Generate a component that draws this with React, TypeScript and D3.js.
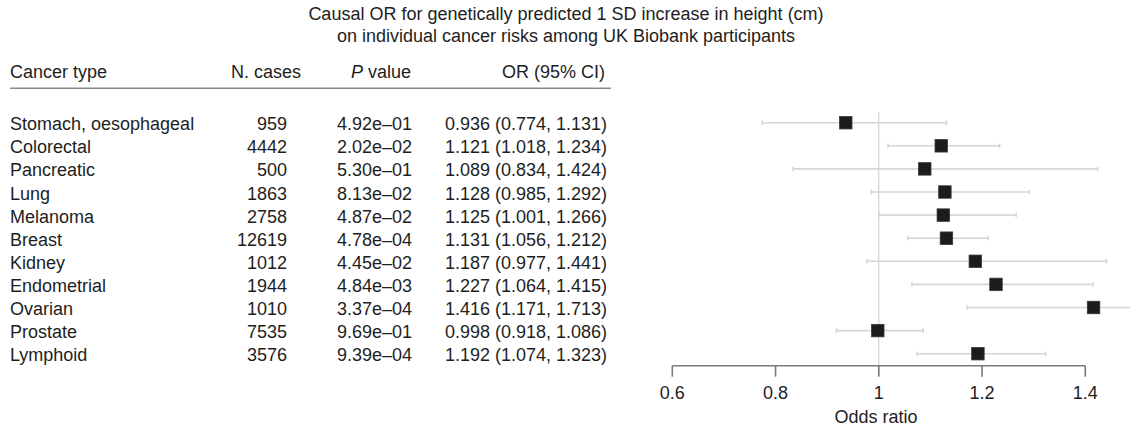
import React from "react";
import * as d3 from "d3";

const cancers = [
  "Stomach, oesophageal", "Colorectal", "Pancreatic", "Lung", "Melanoma", "Breast",
  "Kidney", "Endometrial", "Ovarian", "Prostate", "Lymphoid",
];
const cases = [959, 4442, 500, 1863, 2758, 12619, 1012, 1944, 1010, 7535, 3576];
const pvalues = [
  "4.92e–01", "2.02e–02", "5.30e–01", "8.13e–02", "4.87e–02", "4.78e–04",
  "4.45e–02", "4.84e–03", "3.37e–04", "9.69e–01", "9.39e–04",
];
const oddsRatio = [0.936, 1.121, 1.089, 1.128, 1.125, 1.131, 1.187, 1.227, 1.416, 0.998, 1.192];
const ciLower = [0.774, 1.018, 0.834, 0.985, 1.001, 1.056, 0.977, 1.064, 1.171, 0.918, 1.074];
const ciUpper = [1.131, 1.234, 1.424, 1.292, 1.266, 1.212, 1.441, 1.415, 1.713, 1.086, 1.323];
const xTicks = [0.6, 0.8, 1, 1.2, 1.4];
const titleLines = [
  "Causal OR for genetically predicted 1 SD increase in height (cm)",
  "on individual cancer risks among UK Biobank participants",
];

const W = 1130;
const H = 429;
const FONT = "'Liberation Sans', Arial, Helvetica, sans-serif";
const TXT = "#1e1e1e";

export default function App() {
  const x = d3.scaleLinear().domain([0.6, 1.4]).range([672.3, 1085.3]);
  const y = d3
    .scalePoint<number>()
    .domain(cancers.map((_, i) => i))
    .range([122.7, 353.7]);
  const axisY = 365.7;
  const fs = 18;
  const textDy = 7.5;
  const capH = 4.5;
  const sq = 12.5;

  return (
    <svg
      width={W}
      height={H}
      style={{ position: "absolute", left: 0, top: 0, background: "#fff" }}
      fontFamily={FONT}
    >
      {titleLines.map((t, i) => (
        <text key={t} x={566} y={20 + i * 22} textAnchor="middle" fontSize={fs} fill={TXT}>
          {t}
        </text>
      ))}

      {/* header */}
      <g fontSize={fs} fill={TXT}>
        <text x={10} y={78}>Cancer type</text>
        <text x={301} y={78} textAnchor="end">N. cases</text>
        <text x={411} y={78} textAnchor="end">
          <tspan fontStyle="italic">P</tspan> value
        </text>
        <text x={605} y={78} textAnchor="end">OR (95% CI)</text>
      </g>
      <line x1={10} x2={611} y1={88.3} y2={88.3} stroke="#8a8a8a" strokeWidth={1.6} />

      {/* table rows */}
      <g fontSize={fs} fill={TXT}>
        {cancers.map((c, i) => {
          const yy = (y(i) as number) + textDy;
          return (
            <g key={c}>
              <text x={10} y={yy}>{c}</text>
              <text x={287} y={yy} textAnchor="end">{cases[i]}</text>
              <text x={412} y={yy} textAnchor="end">{pvalues[i]}</text>
              <text x={607} y={yy} textAnchor="end">
                {`${oddsRatio[i].toFixed(3)} (${ciLower[i].toFixed(3)}, ${ciUpper[i].toFixed(3)})`}
              </text>
            </g>
          );
        })}
      </g>

      {/* reference line at OR = 1 */}
      <line x1={x(1)} x2={x(1)} y1={111.7} y2={axisY} stroke="#d4d4d4" strokeWidth={1.2} />

      {/* confidence intervals */}
      <g stroke="#d6d6d6" strokeWidth={1.6}>
        {cancers.map((c, i) => {
          const yy = y(i) as number;
          return (
            <g key={c}>
              <line x1={x(ciLower[i])} x2={x(ciUpper[i])} y1={yy} y2={yy} />
              <line x1={x(ciLower[i])} x2={x(ciLower[i])} y1={yy - capH / 2} y2={yy + capH / 2} />
              <line x1={x(ciUpper[i])} x2={x(ciUpper[i])} y1={yy - capH / 2} y2={yy + capH / 2} />
            </g>
          );
        })}
      </g>

      {/* point estimates */}
      <g fill="#1c1c1c" stroke="#3a3a3a" strokeWidth={0.8}>
        {cancers.map((c, i) => (
          <rect
            key={c}
            x={x(oddsRatio[i]) - sq / 2}
            y={(y(i) as number) - sq / 2}
            width={sq}
            height={sq}
          />
        ))}
      </g>

      {/* x axis */}
      <g>
        <line x1={x(0.6)} x2={x(1.4)} y1={axisY} y2={axisY} stroke="#7a7a7a" strokeWidth={1.6} />
        {xTicks.map((t) => (
          <g key={t}>
            <line x1={x(t)} x2={x(t)} y1={axisY} y2={axisY + 11} stroke="#7a7a7a" strokeWidth={1.6} />
            <text x={x(t)} y={399} textAnchor="middle" fontSize={fs} fill={TXT}>
              {String(t)}
            </text>
          </g>
        ))}
        <text x={876} y={423} textAnchor="middle" fontSize={fs} fill={TXT}>
          Odds ratio
        </text>
      </g>
    </svg>
  );
}
